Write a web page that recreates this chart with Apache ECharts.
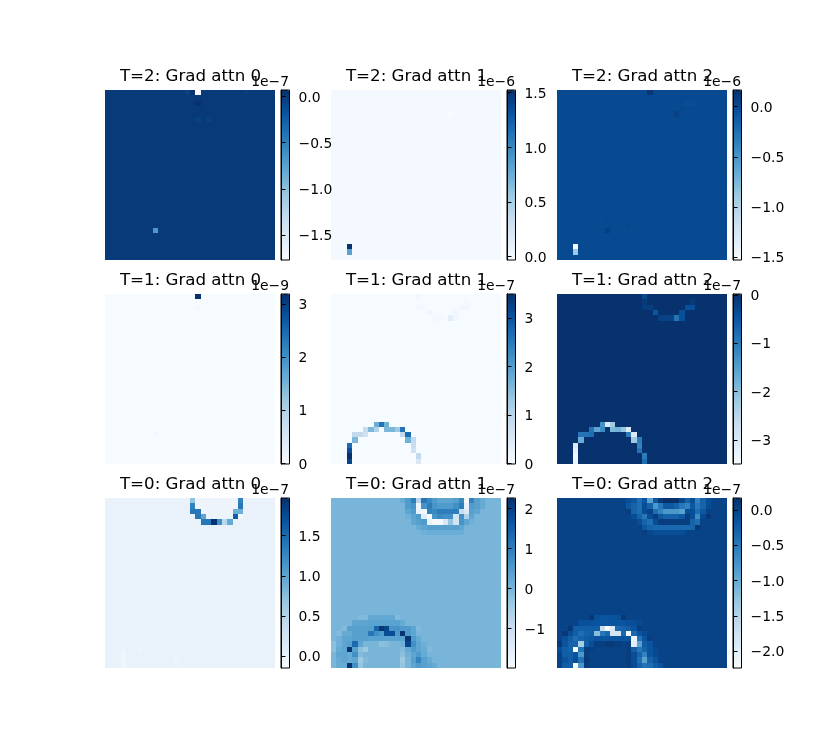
<!DOCTYPE html>
<html>
<head>
<meta charset="utf-8">
<style>html,body{margin:0;padding:0;background:#fff}#c{width:825px;height:750px}</style>
<script src="https://cdn.jsdelivr.net/npm/echarts@6/dist/echarts.min.js"></script>
</head>
<body>
<div id="c"></div>
<script>
// Panel names, top-left to bottom-right
const titles = ['T=2: Grad attn 0','T=2: Grad attn 1','T=2: Grad attn 2','T=1: Grad attn 0','T=1: Grad attn 1','T=1: Grad attn 2','T=0: Grad attn 0','T=0: Grad attn 1','T=0: Grad attn 2'];
const offsets = ['1e\u22127','1e\u22126','1e\u22126','1e\u22129','1e\u22127','1e\u22127','1e\u22127','1e\u22127','1e\u22127'];
// Colour range of each panel, in the unit of its offset text
const rangeMin = [-1.77,-0.03,-1.527,-0.01,-0.01,-3.5,-0.15,-1.99,-2.24];
const rangeMax = [0.07,1.525,0.166,3.19,3.5,0.02,1.97,2.26,0.17];
const ticks0 = [0,-0.5,-1,-1.5];
const ticks1 = [0,0.5,1,1.5];
const ticks2 = [0,-0.5,-1,-1.5];
const ticks3 = [0,1,2,3];
const ticks4 = [0,1,2,3];
const ticks5 = [0,-1,-2,-3];
const ticks6 = [0,0.5,1,1.5];
const ticks7 = [-1,0,1,2];
const ticks8 = [0,-0.5,-1,-1.5,-2];
const tickDecimals = [1,1,1,0,0,0,1,0,1];
// Value of every cell that is not zero: [row, first column, value, value, ...]
const cells0 = [[0,15,-0.05,0.05,-1.77],[0,26,-0.03],[2,17,0.07],[3,18,0.02],[5,17,-0.04],[5,19,-0.05],[26,9,-0.67]];
const cells1 = [[29,3,1.525],[30,3,0.83],[4,22,-0.03],[0,16,-0.01],[24,9,0.01],[25,13,-0.01],[2,18,-0.01]];
const cells2 = [[29,3,-1.527],[30,3,-0.9],[0,17,0.13],[4,22,0.06],[26,9,0.08],[24,9,0.02],[25,13,0.02],[2,24,-0.02,-0.02],[3,23,0.02]];
const cells3 = [[0,17,3.19],[2,17,0.03],[5,19,0.02],[26,9,0.06],[0,24,0.02]];
const cells4 = [
 [0,16,0.1],[1,16,0.03],[1,25,0.05],[2,16,0.06,0.05],[2,24,0.1,0.1],[3,18,0.15],[3,23,0.12],[4,19,0.07,0.07,0.03,0.35,0.12],
 [24,8,1.74,2.6,1.7],[25,6,0.85,1.6,1.1,0,1.6,1.6,1.3,2.6],[26,4,0.9,0.9,0.7],[26,13,0.9,2.7],[27,4,1.6],[27,14,1.7,0.9],
 [28,3,2.7],[28,15,0.8],[29,3,3.1],[29,15,0.7],[30,3,3.5],[30,16,0.9],[31,3,3.2],[31,16,0.5]];
const cells5 = [
 [0,16,-0.3],[1,16,-0.1],[1,25,-0.1],[2,16,-0.15,-0.15],[2,24,-0.4,-0.4],[3,18,-0.5],[3,23,-0.4],[4,19,-0.2,-0.2,-0.2,-0.9,-0.4],
 [24,8,-1.3,-3.0,-2.2],[25,6,-0.9,-1.6,-1.2,0,-1.9,-1.8,-2.1,-3.0],[26,4,-0.9,-0.9,-0.8],[26,13,-1.0,-3.0],[27,4,-1.7],[27,14,-2.2,-1.0],
 [28,3,-3.0],[28,15,-1.1],[29,3,-3.2],[29,15,-0.9],[30,3,-3.4],[30,16,-1.0],[31,3,-3.3],[31,16,-0.8]];
const cells6 = [
 [0,16,0.7],[0,25,1.3],[1,16,1.3],[1,25,1.4],[2,16,1.4,1.4],[2,24,0.9,0.9],[3,17,1.4,1.0],[3,24,1.6,-0.08],
 [4,18,1.4,1.4,1.95,1.2,0.45,0.95],
 [0,17,-0.04,-0.04,-0.04,-0.04,-0.04,-0.04,-0.04,-0.04],[1,17,-0.04,-0.04,-0.04,-0.04,-0.04,-0.04,-0.04,-0.04],
 [2,18,-0.04,-0.04,-0.04,-0.04,-0.04,-0.04],[3,19,-0.03,-0.03,-0.03,-0.03,-0.03],
 [24,8,-0.01,-0.01,-0.01,-0.01],[26,5,-0.01],[26,13,-0.01],[28,3,-0.03],[29,3,-0.05],[30,3,-0.06],[31,3,-0.05],[28,6,-0.02],[30,13,-0.02],[31,13,-0.02]];
const cells7 = [
 [0,13,0.2,0.5,1.0,-0.7,1.1,0.8,0.5,0.3,0.3,0.3,0.4,0.8,-1.9,0.9,0.4,0.2],
 [1,14,0.5,0.6,-1.8,0.6,1.0,0.6,0.5,0.5,0.5,0.7,1.0,-1.7,0.5,0.4,0.2],
 [2,14,0.3,0.5,-1.7,-1.9,0.9,0.8,1.0,1.0,1.0,1.0,-1.0,-1.4,0.4,0.3],
 [3,14,0.1,0.3,0.5,-1.5,-1.9,0.6,0.8,0.7,0.7,-1.2,0.7,-0.6,0.3],
 [4,15,0.3,0.4,0.5,-1.7,-1.9,-1.9,-1.3,-0.3,-1.2,0.6,0.3,0.1],
 [5,16,0.2,0.3,0.4,0.4,0.4,0.4,0.4,0.4,0.3],
 [6,17,0.1,0.15,0.15,0.15,0.15,0.15,0.15,0.15],
 [22,5,-0.1,-0.1,0.25,0.25,0.25,0.25,0.25,-0.1],
 [23,4,0.3,0.3,0.3,0.35,0.35,0.35,0.35,0.35,0.35,0.2],
 [24,2,-0.1,0.4,0.4,0.4,0.4,0.4,1.4,2.2,1.9,0.6,0.6,0.5,0.5,0.3,-0.1],
 [25,1,-0.1,0.2,0.2,0.4,0.4,0.4,1.1,0.7,0.5,1.8,1.8,0.5,2.2,0.5,0.3],
 [26,1,0.1,0.3,0.3,0.4,0.4,0.4,0.35,0.35,0.35,0.35,0.35,0.35,0.35,2.2,0.5,0.2],
 [27,0,-0.2,0.1,0.3,0.4,1.3,0.3,0,0,0,-0.2,-0.15,0,0,0.1,1.9,0.7,0.3,0.1],
 [28,0,-0.2,0.2,0.3,2.2,0.4,-0.2,-0.4,0,0,0,0,0,0,-0.1,0.2,0.5,0.3,0.2,-0.1],
 [29,1,0.3,0.3,0.2,0.7,-0.1,0,0,0,0,0,0,0,-0.2,0.1,0.3,0.5,0.2],
 [30,1,0.2,0.3,0.2,0.3,-0.4,-0.1,0,0,0,0,0,0,-0.4,0,0.4,0.9,0.4,0.2],
 [31,1,0.2,0.2,2.2,0.7,-0.3,0,0,0,0,0,0,0,-0.3,0,0.3,0.5,0.4,0.3,0.2]];
const cells8 = [
 [0,13,-0.1,-0.2,-0.4,-0.15,-0.9,-0.2,0.1,0.17,0.17,0.17,-0.05,-0.3,-0.1,-0.6,-0.3,-0.1],
 [1,13,-0.2,-0.3,-0.4,-0.1,-0.3,-0.8,-0.5,-0.2,-0.2,-0.3,-0.5,-0.6,-0.2,-0.5,-0.3,-0.1],
 [2,13,0.05,-0.3,-0.4,-0.1,0,-0.4,-0.6,-0.8,-0.8,-0.8,-0.9,-0.1,-0.1,-0.4,-0.2],
 [3,14,-0.1,-0.3,-0.5,-0.1,0.05,-0.2,-0.3,-0.3,-0.3,-0.2,0.05,-0.1,-0.7,-0.05,0.1],
 [4,15,-0.1,-0.3,-0.4,-0.1,0.05,0.05,0.05,0.05,0.05,0.05,-0.3,-0.4],
 [5,16,-0.2,-0.3,-0.35,-0.35,-0.35,-0.35,-0.35,-0.35,-0.35,-0.3,0.1],
 [6,16,0.05,-0.05,-0.1,-0.1,-0.1,-0.1,-0.1,-0.1],
 [22,6,0.1,-0.12,-0.15,-0.15,-0.15,-0.12,0.1],
 [23,4,-0.12,-0.12,-0.12,-0.15,-0.15,-0.15,-0.15,-0.15,-0.15,-0.12,-0.1,-0.05],
 [24,2,0.1,-0.25,-0.25,-0.25,-0.25,-0.25,-1.7,-2.24,-1.9,-0.35,-0.3,-0.25,-0.15,0.05],
 [25,1,0.1,-0.1,-0.25,-0.4,-0.3,-0.25,-1.2,-0.5,-0.35,-1.8,-1.8,-0.35,-2.2,-0.35,-0.15,-0.08],
 [26,1,-0.12,-0.25,-0.4,-0.3,-0.25,-0.2,-0.15,-0.15,-0.15,-0.15,-0.15,-0.15,-0.15,-2.1,-0.45,-0.15,0.05],
 [27,0,0.08,-0.15,-0.3,-0.3,-1.4,-0.25,-0.1,0.03,0.03,0.08,0.08,0.03,0,0.03,-2.0,-0.9,-0.25,-0.15],
 [28,0,-0.1,-0.25,-0.3,-2.2,-0.45,0.05,0.03,0,0,0,0,0,0,0.03,-0.25,-0.5,-0.3,-0.15,-0.05],
 [29,1,-0.25,-0.25,-0.15,-0.8,0.05,0,0,0,0,0,0,0,0.05,-0.1,-0.3,-0.6,-0.15,-0.08],
 [30,1,-0.15,-0.25,-0.1,-0.45,0.08,0,0,0,0,0,0,0,0.05,-0.1,-0.4,-0.9,-0.3,-0.15],
 [31,1,-0.25,-0.25,-2.2,-0.8,0.05,0,0,0,0,0,0,0,0.05,-0.1,-0.3,-0.45,-0.4,-0.25,-0.15]];
const panelCells = [cells0,cells1,cells2,cells3,cells4,cells5,cells6,cells7,cells8];
const panelTicks = [ticks0,ticks1,ticks2,ticks3,ticks4,ticks5,ticks6,ticks7,ticks8];
const gridSize = 32;
const blues = ['#f7fbff','#deebf7','#c6dbef','#9ecae1','#6baed6','#4292c6','#2171b5','#08519c','#08306b'];

const panelLeft = [105,331,557], panelTop = [90,294,498], panelSize = 170;
const barLeft = [281,507,733], barWidth = 8.5;
const idx = Array.from({length:gridSize},(_,i)=>i);

function matrix(list){
  const m = [];
  for(const r of idx) for(const c of idx) m.push([c,r,0]);
  for(const run of list){
    for(let k=2;k<run.length;k++) m[run[0]*gridSize+run[1]+k-2][2]=run[k];
  }
  return m;
}
// One crisp, pixel-snapped rectangle per cell, placed by the category axes
function renderCell(params,api){
  const p=api.coord([api.value(0),api.value(1)]), s=api.size([1,1]);
  const x0=Math.round(p[0]-s[0]/2), x1=Math.round(p[0]+s[0]/2);
  const y0=Math.round(p[1]-s[1]/2), y1=Math.round(p[1]+s[1]/2);
  return {type:'rect',shape:{x:x0,y:y0,width:x1-x0,height:y1-y0},style:{fill:api.visual('color'),stroke:null},silent:true};
}

const option = {animation:false,backgroundColor:'#fff',tooltip:{show:false},title:[],grid:[],xAxis:[],yAxis:[],series:[],visualMap:[]};
titles.forEach((t,i)=>{
  const col=i%3,row=Math.floor(i/3),L=panelLeft[col],T=panelTop[row];
  option.title.push({text:t,left:L+85.5,top:T-23,textAlign:'center',padding:0,z:20,
    textStyle:{fontFamily:'DejaVu Sans',fontSize:16.67,fontWeight:'normal',color:'#000',lineHeight:19}});
  option.title.push({text:offsets[i],left:barLeft[col]+barWidth-0.5,top:T-15,textAlign:'right',padding:0,z:21,
    textStyle:{fontFamily:'DejaVu Sans',fontSize:13.9,fontWeight:'normal',color:'#000',lineHeight:14}});
  option.grid.push({left:L,top:T,width:panelSize,height:panelSize,show:false});
  const g=option.grid.length-1;
  option.xAxis.push({type:'category',gridIndex:g,data:idx,show:false});
  option.yAxis.push({type:'category',gridIndex:g,data:idx,inverse:true,show:false});
  option.series.push({type:'custom',xAxisIndex:g,yAxisIndex:g,data:matrix(panelCells[i]),renderItem:renderCell,encode:{x:0,y:1},silent:true,progressive:0,clip:true});
  option.visualMap.push({type:'continuous',seriesIndex:i,min:rangeMin[i],max:rangeMax[i],dimension:2,left:barLeft[col],top:T,itemWidth:barWidth,itemHeight:panelSize,padding:0,calculable:false,hoverLink:false,text:null,inRange:{color:blues},z:5});
  option.grid.push({left:barLeft[col],top:T,width:barWidth,height:panelSize,show:true,borderColor:'#000',borderWidth:1,backgroundColor:'transparent',z:10});
  const b=option.grid.length-1;
  const dec=tickDecimals[i], tk=panelTicks[i];
  option.xAxis.push({type:'value',gridIndex:b,min:0,max:1,show:false});
  option.yAxis.push({type:'value',gridIndex:b,position:'right',min:rangeMin[i],max:rangeMax[i],z:11,
    splitLine:{show:false},
    axisLine:{show:true,lineStyle:{color:'#000',width:1}},
    axisTick:{show:true,length:4.5,lineStyle:{color:'#000',width:1},customValues:tk},
    axisLabel:{show:true,margin:9,verticalAlign:'top',lineHeight:3,color:'#000',fontFamily:'DejaVu Sans',fontSize:13.9,showMinLabel:true,showMaxLabel:true,hideOverlap:false,customValues:tk,
      formatter:v=>Number(v).toFixed(dec).replace('-','\u2212')}});
});
const chart = echarts.init(document.getElementById('c'),null,{renderer:'canvas',width:825,height:750});
chart.setOption(option);
</script>
</body>
</html>
